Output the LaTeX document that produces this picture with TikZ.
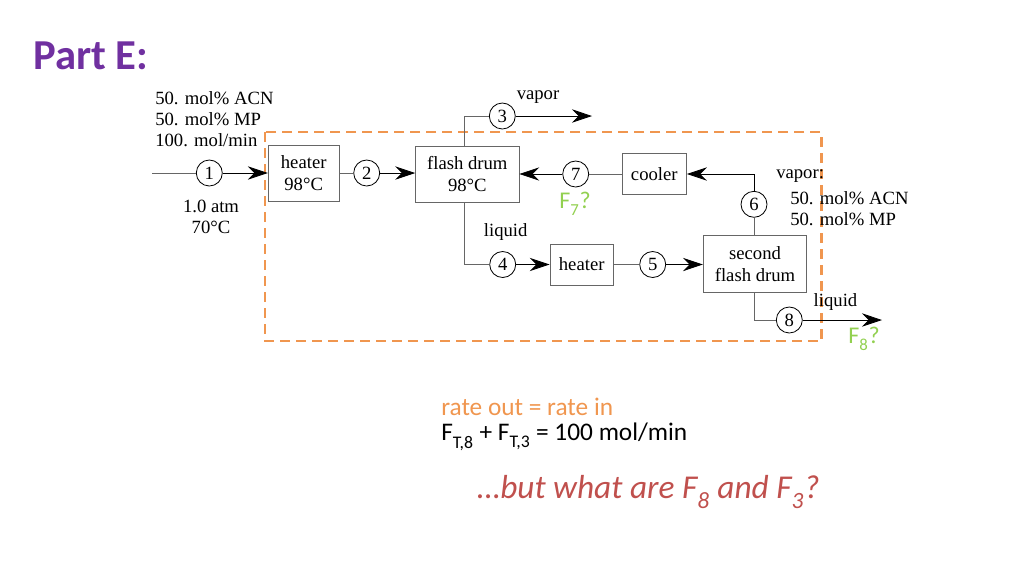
\documentclass[tikz,border=0pt]{standalone}
\usepackage{fontspec}
\setmainfont{Liberation Serif}
\newfontfamily\calib{Carlito}
\usetikzlibrary{arrows.meta}
\definecolor{ppurple}{HTML}{7030A0}
\definecolor{porange}{HTML}{F0964F}
\definecolor{pgreen}{HTML}{92D050}
\definecolor{pred}{HTML}{C0504D}
\definecolor{lgray}{gray}{0.4}
\newcommand{\lowsub}[1]{\raisebox{-0.3ex}{\textsubscript{#1}}}
\tikzset{
  box/.style={draw=lgray, line width=0.6pt, align=center, inner sep=1pt, font=\fontsize{14}{16.5}\selectfont},
  strm/.style={draw=black, circle, line width=0.6pt, minimum size=19.5pt, inner sep=0pt, font=\fontsize{14}{16}\selectfont},
  ln/.style={draw=lgray, line width=0.6pt},
  arr/.style={draw=black, line width=0.6pt, -{Stealth[length=15pt,width=10pt,inset=5pt]}},
  lbl/.style={inner sep=0pt, font=\fontsize{14}{16}\selectfont},
  slide/.style={inner sep=0pt, font=\calib\fontsize{19}{22}\selectfont},
  qmark/.style={inner sep=0pt, text=pgreen, font=\calib\fontsize{18}{20}\selectfont},
}
\begin{document}
\begin{tikzpicture}[x=0.75pt, y=-0.75pt]
\useasboundingbox (0,0) rectangle (1024,576);
% title
\node[anchor=west, inner sep=0pt, text=ppurple, font=\calib\bfseries\fontsize{32}{36}\selectfont] (title) at (33,56) {Part E:};
% boundary
\draw[porange, line width=1.6pt, dash pattern=on 7.5pt off 4.5pt] (265,132) rectangle (821.5,341);
% boxes
\node[box, minimum width=53.25pt, minimum height=42pt] (h1) at (303.7,173) {heater\\98°C};
\node[box, minimum width=77.5pt, minimum height=42.5pt] (f1) at (467.3,174.3) {flash drum\\98°C};
\node[box, minimum width=48.3pt, minimum height=30.75pt] (cool) at (654.3,174) {cooler};
\node[box, minimum width=47.5pt, minimum height=30.75pt] (h2) at (581.7,264.5) {heater};
\node[box, minimum width=77.5pt, minimum height=42.5pt] (f2) at (755,264) {second\\flash drum};
% stream circles
\node[strm] (c1) at (209.3,173) {1};
\node[strm] (c2) at (366.7,173) {2};
\node[strm] (c3) at (502.3,116) {3};
\node[strm] (c4) at (502.7,264.5) {4};
\node[strm] (c5) at (652.7,264.5) {5};
\node[strm] (c6) at (754,204.3) {6};
\node[strm] (c7) at (575.7,174) {7};
\node[strm] (c8) at (789.3,320) {8};
% coordinates
\coordinate (in1) at (152,173);
\coordinate (v3) at (464.3,116);
\coordinate (l4) at (464.3,264.5);
\coordinate (out3) at (592,116);
\coordinate (l8) at (754,320);
\coordinate (out8) at (882,320);
% connectors
\draw[ln] (in1) -- (c1);
\draw[arr] (c1) -- (h1.west);
\draw[ln] (h1.east |- c2) -- (c2);
\draw[arr] (c2) -- (f1.west |- c2);
\draw[ln] (f1.north -| v3) -- (v3) -- (c3);
\draw[arr] (c3) -- (out3);
\draw[ln] (cool.west) -- (c7);
\draw[arr] (c7) -- (f1.east |- c7);
\draw[ln] (f2.north -| c6) -- (c6);
\draw[arr] (c6) -- (c6 |- cool) -- (cool.east);
\draw[ln] (f1.south -| l4) -- (l4) -- (c4);
\draw[arr] (c4) -- (h2.west);
\draw[ln] (h2.east) -- (c5);
\draw[arr] (c5) -- (f2.west |- c5);
\draw[ln] (f2.south -| l8) -- (l8) -- (c8);
\draw[arr] (c8) -- (out8);
% labels
\node[lbl, anchor=west] (feedA) at (155,98) {50. mol\% ACN};
\node[lbl, anchor=west] (feedB) at (155,119) {50. mol\% MP};
\node[lbl, anchor=west] (feedC) at (155,140) {100. mol/min};
\node[lbl] (p1) at (211,206) {1.0 atm};
\node[lbl] (t1) at (211,227) {70°C};
\node[lbl] (vap3) at (538,97) {vapor};
\node[lbl] (liq4) at (505.7,232.5) {liquid};
\node[lbl, anchor=west] (vap6) at (776,176) {vapor:};
\node[lbl, anchor=west] (v6a) at (790,198) {50. mol\% ACN};
\node[lbl, anchor=west] (v6b) at (790,219) {50. mol\% MP};
\node[lbl] (liq8) at (835.5,302.3) {liquid};
\node[qmark] (F7) at (575,204) {F\lowsub{7}?};
\node[qmark] (F8) at (864,339) {F\lowsub{8}?};
% slide text
\node[slide, anchor=west, text=porange] (bal) at (441,407) {rate out = rate in};
\node[slide, anchor=west] (eq) at (441,437) {F\lowsub{T,8} + F\lowsub{T,3} = 100 mol/min};
\node[slide, anchor=west, text=pred, font=\calib\itshape\fontsize{25}{28}\selectfont] (q) at (477,492) {…but what are F\lowsub{8} and F\lowsub{3}?};
\end{tikzpicture}
\end{document}
